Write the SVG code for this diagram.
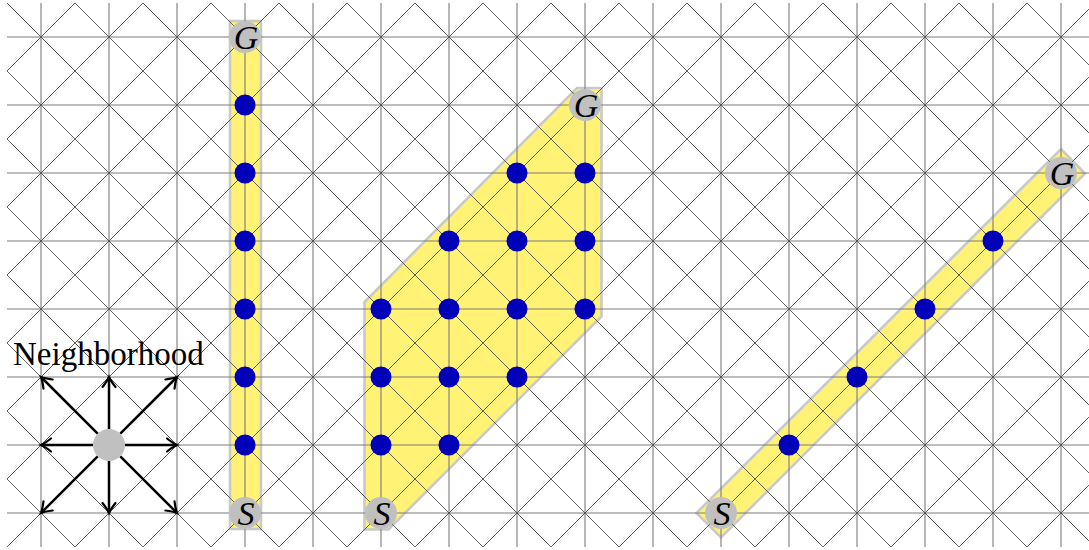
<svg xmlns="http://www.w3.org/2000/svg" width="1089" height="550" viewBox="0 0 1089 550">
<style>
.region{fill:#fff274;stroke:#c9c9c9;stroke-width:2.6;stroke-linejoin:miter}
.ortho{stroke:#7c7c7c;stroke-width:1.1;fill:none}
.diag{stroke:#4e4e4e;stroke-width:0.9;fill:none}
.dot{fill:#0000b8}
.end{fill:#c0c0c0}
.lab{font-family:"Liberation Serif","DejaVu Serif",serif;font-style:italic;font-size:34px;text-anchor:middle;fill:#000}
.title{font-family:"Liberation Serif","DejaVu Serif",serif;font-size:33px;fill:#000}
.arr{stroke:#000;stroke-width:2.5;fill:none;marker-end:url(#head)}
</style>
<defs>
<clipPath id="gclip"><rect x="7" y="3" width="1088" height="544"/></clipPath>
<marker id="head" markerUnits="userSpaceOnUse" markerWidth="18" markerHeight="18" viewBox="-13 -9 15 18" refX="0" refY="0" orient="auto">
<path d="M -10 -6.5 Q -3.5 -1.5 0 0 Q -3.5 1.5 -10 6.5" stroke="#000" stroke-width="2.2" fill="none" stroke-linecap="round"/>
</marker>
</defs>
<rect width="1089" height="550" fill="#fff"/>
<g id="regions">
<rect class="region" x="230" y="21" width="31" height="508"/>
<polygon class="region" points="364.5,529.5 364.5,302 577,88 601.5,88 601.5,316.5 388.5,529.5"/>
<polygon class="region" points="696.5,513 721,537.5 1085,173.5 1061,149"/>
</g>
<g id="grid" clip-path="url(#gclip)">
<path class="ortho" d="M7 37H1095M7 105H1095M7 173H1095M7 241H1095M7 309H1095M7 377H1095M7 445H1095M7 513H1095
M41 3V547M109 3V547M177 3V547M245 3V547M313 3V547M381 3V547M449 3V547M517 3V547M585 3V547M653 3V547M721 3V547M789 3V547M857 3V547M925 3V547M993 3V547M1061 3V547"/>
<path class="diag" d="M-469 3L75 547M-401 3L143 547M-333 3L211 547M-265 3L279 547M-197 3L347 547M-129 3L415 547M-61 3L483 547M7 3L551 547M75 3L619 547M143 3L687 547M211 3L755 547M279 3L823 547M347 3L891 547M415 3L959 547M483 3L1027 547M551 3L1095 547M619 3L1163 547M687 3L1231 547M755 3L1299 547M823 3L1367 547M891 3L1435 547M959 3L1503 547M1027 3L1571 547
M75 3L-469 547M143 3L-401 547M211 3L-333 547M279 3L-265 547M347 3L-197 547M415 3L-129 547M483 3L-61 547M551 3L7 547M619 3L75 547M687 3L143 547M755 3L211 547M823 3L279 547M891 3L347 547M959 3L415 547M1027 3L483 547M1095 3L551 547M1163 3L619 547M1231 3L687 547M1299 3L755 547M1367 3L823 547M1435 3L891 547M1503 3L959 547M1571 3L1027 547"/>
</g>
<g id="connectors">
<line class="arr" x1="97.7" y1="433.7" x2="41" y2="377"/>
<line class="arr" x1="109" y1="429" x2="109" y2="377"/>
<line class="arr" x1="120.3" y1="433.7" x2="177" y2="377"/>
<line class="arr" x1="93" y1="445" x2="41" y2="445"/>
<line class="arr" x1="125" y1="445" x2="177" y2="445"/>
<line class="arr" x1="97.7" y1="456.3" x2="41" y2="513"/>
<line class="arr" x1="109" y1="461" x2="109" y2="513"/>
<line class="arr" x1="120.3" y1="456.3" x2="177" y2="513"/>
</g>
<g id="neighborhood"><circle class="end" cx="109" cy="445" r="16"/><text class="title" x="13" y="365">Neighborhood</text></g>
<g id="path1">
<g id="p1-G"><circle class="end" cx="245" cy="37" r="16"/><text class="lab" x="246" y="49">G</text></g>
<g id="p1-n1"><circle class="dot" cx="245" cy="105" r="10.5"/></g>
<g id="p1-n2"><circle class="dot" cx="245" cy="173" r="10.5"/></g>
<g id="p1-n3"><circle class="dot" cx="245" cy="241" r="10.5"/></g>
<g id="p1-n4"><circle class="dot" cx="245" cy="309" r="10.5"/></g>
<g id="p1-n5"><circle class="dot" cx="245" cy="377" r="10.5"/></g>
<g id="p1-n6"><circle class="dot" cx="245" cy="445" r="10.5"/></g>
<g id="p1-S"><circle class="end" cx="245" cy="513" r="16"/><text class="lab" x="246" y="525">S</text></g>
</g>
<g id="path2">
<g id="p2-G"><circle class="end" cx="585" cy="105" r="16"/><text class="lab" x="586" y="117">G</text></g>
<g id="p2-n1"><circle class="dot" cx="517" cy="173" r="10.5"/></g>
<g id="p2-n2"><circle class="dot" cx="585" cy="173" r="10.5"/></g>
<g id="p2-n3"><circle class="dot" cx="449" cy="241" r="10.5"/></g>
<g id="p2-n4"><circle class="dot" cx="517" cy="241" r="10.5"/></g>
<g id="p2-n5"><circle class="dot" cx="585" cy="241" r="10.5"/></g>
<g id="p2-n6"><circle class="dot" cx="381" cy="309" r="10.5"/></g>
<g id="p2-n7"><circle class="dot" cx="449" cy="309" r="10.5"/></g>
<g id="p2-n8"><circle class="dot" cx="517" cy="309" r="10.5"/></g>
<g id="p2-n9"><circle class="dot" cx="585" cy="309" r="10.5"/></g>
<g id="p2-n10"><circle class="dot" cx="381" cy="377" r="10.5"/></g>
<g id="p2-n11"><circle class="dot" cx="449" cy="377" r="10.5"/></g>
<g id="p2-n12"><circle class="dot" cx="517" cy="377" r="10.5"/></g>
<g id="p2-n13"><circle class="dot" cx="381" cy="445" r="10.5"/></g>
<g id="p2-n14"><circle class="dot" cx="449" cy="445" r="10.5"/></g>
<g id="p2-S"><circle class="end" cx="381" cy="513" r="16"/><text class="lab" x="382" y="525">S</text></g>
</g>
<g id="path3">
<g id="p3-G"><circle class="end" cx="1061" cy="173" r="16"/><text class="lab" x="1062" y="185">G</text></g>
<g id="p3-n1"><circle class="dot" cx="993" cy="241" r="10.5"/></g>
<g id="p3-n2"><circle class="dot" cx="925" cy="309" r="10.5"/></g>
<g id="p3-n3"><circle class="dot" cx="857" cy="377" r="10.5"/></g>
<g id="p3-n4"><circle class="dot" cx="789" cy="445" r="10.5"/></g>
<g id="p3-S"><circle class="end" cx="721" cy="513" r="16"/><text class="lab" x="722" y="525">S</text></g>
</g>
</svg>
